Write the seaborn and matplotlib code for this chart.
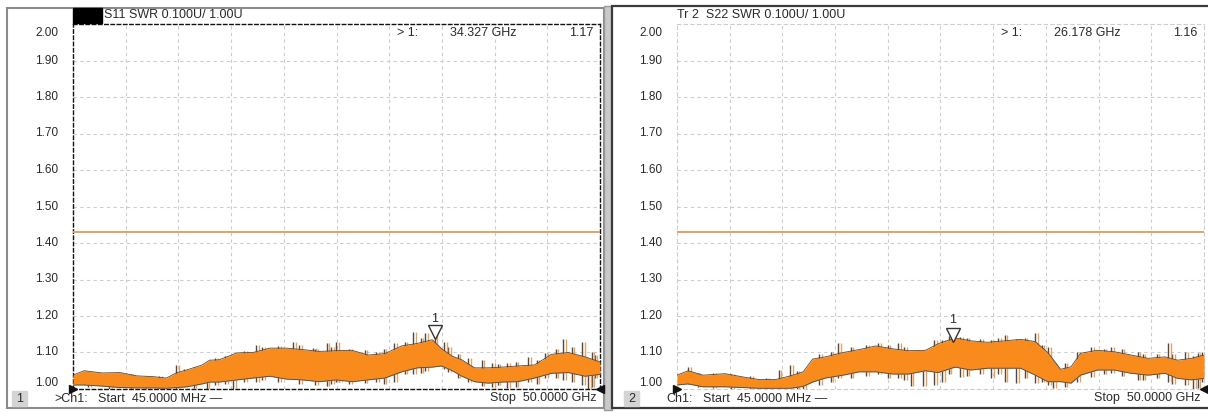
import numpy as np
import pandas as pd
import matplotlib
matplotlib.use("Agg")
import matplotlib.pyplot as plt
from matplotlib.patches import Rectangle
import seaborn as sns

# ---------------- data ----------------
y_ticks = [1.00, 1.10, 1.20, 1.30, 1.40, 1.50, 1.60, 1.70, 1.80, 1.90, 2.00]
y_tick_labels = ["1.00", "1.10", "1.20", "1.30", "1.40", "1.50", "1.60", "1.70", "1.80", "1.90", "2.00"]
start_ghz = 0.045
stop_ghz = 50.0
limit_value = 1.43

# S11 trace envelope (GHz, SWR)
s11_freq = [0.045, 1.1, 2.8, 4.5, 6.1, 7.6, 8.9, 9.9, 10.8, 12.3, 13.0, 13.9, 15.6, 17.1, 18.7,
            20.3, 21.8, 23.4, 25.0, 26.5, 28.0, 29.6, 31.2, 32.7, 34.1, 35.0, 36.0, 36.9, 38.1,
            39.4, 40.7, 42.2, 43.8, 45.4, 47.0, 48.6, 50.0]
s11_upper = [1.038, 1.050, 1.044, 1.045, 1.036, 1.034, 1.030, 1.045, 1.052, 1.066, 1.079, 1.080,
             1.099, 1.100, 1.112, 1.112, 1.108, 1.103, 1.105, 1.106, 1.093, 1.097, 1.118, 1.125,
             1.135, 1.110, 1.090, 1.080, 1.058, 1.058, 1.060, 1.063, 1.066, 1.095, 1.100, 1.088, 1.074]
s11_lower = [1.011, 1.011, 1.008, 1.004, 1.003, 1.003, 1.002, 1.004, 1.006, 1.014, 1.019, 1.019,
             1.025, 1.030, 1.035, 1.027, 1.025, 1.020, 1.025, 1.020, 1.025, 1.030, 1.047, 1.058,
             1.060, 1.063, 1.050, 1.035, 1.020, 1.016, 1.019, 1.020, 1.030, 1.043, 1.045, 1.035, 1.040]
# S11 noise spikes (GHz, top, bottom)
s11_spike_freq = [1.5, 3.5, 5.5, 7.0, 8.2, 9.8, 10.6, 11.5, 12.7, 13.5, 14.5, 15.2, 16.3, 17.4,
                  18.0, 19.5, 20.9, 21.5, 22.8, 23.0, 24.1, 24.5, 25.0, 25.3, 26.2, 27.7, 28.8,
                  29.5, 30.5, 31.5, 32.3, 33.0, 33.4, 34.327, 35.2, 35.6, 36.5, 37.5, 38.8, 39.8,
                  40.3, 41.2, 42.0, 43.2, 44.0, 44.8, 45.8, 46.5, 47.3, 48.3, 48.9, 49.2, 49.5]
s11_spike_top = [1.045, 1.040, 1.040, 1.035, 1.035, 1.066, 1.054, 1.060, 1.052, 1.085, 1.090,
                 1.090, 1.105, 1.120, 1.115, 1.118, 1.130, 1.120, 1.112, 1.110, 1.125, 1.115,
                 1.130, 1.107, 1.110, 1.107, 1.100, 1.110, 1.125, 1.130, 1.157, 1.140, 1.153,
                 1.165, 1.130, 1.116, 1.095, 1.085, 1.079, 1.070, 1.068, 1.070, 1.075, 1.088,
                 1.080, 1.098, 1.110, 1.138, 1.115, 1.130, 1.080, 1.100, 1.093]
s11_spike_bottom = [1.005, 1.000, 1.000, 0.998, 1.000, 1.000, 1.005, 1.002, 0.998, 1.010, 1.015,
                    0.998, 1.020, 1.020, 1.025, 1.020, 1.034, 1.015, 1.038, 1.010, 1.007, 1.015,
                    1.020, 1.020, 1.015, 1.016, 1.020, 1.015, 1.020, 1.040, 1.040, 1.045, 1.050,
                    1.070, 1.055, 1.047, 1.030, 1.020, 1.007, 1.005, 1.010, 1.002, 1.005, 1.020,
                    1.015, 1.030, 1.030, 1.025, 1.020, 1.011, 1.000, 1.005, 1.030]

# S22 trace envelope
s22_freq = [0.045, 1.1, 2.5, 4.6, 6.3, 7.8, 9.4, 10.8, 12.0, 12.9, 14.1, 15.8, 17.3, 18.9, 20.5,
            22.0, 23.6, 24.8, 26.4, 27.9, 29.5, 31.1, 32.6, 34.0, 35.2, 36.4, 37.4, 38.3, 39.9,
            41.5, 43.1, 44.7, 46.3, 47.5, 48.8, 50.0]
s22_upper = [1.038, 1.050, 1.038, 1.042, 1.033, 1.026, 1.026, 1.036, 1.047, 1.082, 1.088, 1.100,
             1.108, 1.118, 1.110, 1.105, 1.106, 1.124, 1.140, 1.132, 1.128, 1.132, 1.136, 1.130,
             1.100, 1.054, 1.061, 1.098, 1.106, 1.102, 1.093, 1.084, 1.088, 1.079, 1.084, 1.093]
s22_lower = [1.011, 1.014, 1.006, 1.006, 1.004, 1.002, 1.002, 1.002, 1.007, 1.019, 1.030, 1.038,
             1.047, 1.047, 1.041, 1.041, 1.050, 1.045, 1.060, 1.052, 1.057, 1.057, 1.057, 1.038,
             1.020, 1.020, 1.016, 1.038, 1.052, 1.052, 1.043, 1.038, 1.043, 1.029, 1.025, 1.029]
s22_spike_freq = [1.1, 2.0, 3.5, 5.2, 7.0, 8.5, 9.7, 10.8, 11.4, 12.0, 13.5, 14.6, 15.3, 16.5,
                  18.0, 19.1, 20.0, 21.0, 21.6, 22.2, 23.4, 24.4, 25.2, 25.8, 26.9, 27.5, 28.8,
                  29.8, 30.5, 31.1, 32.2, 33.0, 34.0, 34.6, 35.2, 35.7, 36.8, 38.0, 39.3, 40.5,
                  41.2, 42.2, 43.7, 44.2, 45.5, 46.6, 47.0, 48.2, 49.0, 49.4, 49.8]
s22_spike_top = [1.061, 1.045, 1.045, 1.040, 1.035, 1.030, 1.052, 1.066, 1.050, 1.043, 1.095,
                 1.100, 1.125, 1.115, 1.120, 1.125, 1.120, 1.125, 1.115, 1.098, 1.107, 1.134,
                 1.134, 1.145, 1.143, 1.140, 1.138, 1.135, 1.140, 1.147, 1.138, 1.140, 1.153,
                 1.120, 1.116, 1.070, 1.070, 1.100, 1.116, 1.110, 1.116, 1.110, 1.102, 1.095,
                 1.095, 1.125, 1.095, 1.102, 1.090, 1.098, 1.100]
s22_spike_bottom = [1.014, 1.005, 1.003, 1.000, 1.000, 0.998, 0.998, 1.002, 1.000, 0.998, 1.012,
                    1.020, 1.030, 1.030, 1.035, 1.040, 1.030, 1.029, 1.025, 1.007, 1.007, 1.011,
                    1.020, 1.040, 1.034, 1.035, 1.040, 1.030, 1.040, 1.020, 1.016, 1.030, 1.016,
                    1.020, 1.011, 1.002, 1.005, 1.020, 1.034, 1.040, 1.045, 1.035, 1.025, 1.025,
                    1.030, 1.020, 1.015, 1.011, 1.000, 1.002, 1.020]

panels = [
    dict(name="S11", title="S11 SWR 0.100U/ 1.00U", freq=s11_freq, up=s11_upper, lo=s11_lower,
         sf=s11_spike_freq, st=s11_spike_top, sb=s11_spike_bottom,
         mk_freq=34.327, mk_text="34.327 GHz", mk_val="1.17", num="1", ch=">Ch1:"),
    dict(name="S22", title="Tr 2  S22 SWR 0.100U/ 1.00U", freq=s22_freq, up=s22_upper, lo=s22_lower,
         sf=s22_spike_freq, st=s22_spike_top, sb=s22_spike_bottom,
         mk_freq=26.178, mk_text="26.178 GHz", mk_val="1.16", num="2", ch="Ch1:"),
]

# ---------------- style ----------------
sns.set_style("white")
plt.rcParams["font.family"] = ["Liberation Sans", "DejaVu Sans"]

W, H = 1208, 413
fig = plt.figure(figsize=(W / 100, H / 100), dpi=100)
fig.patch.set_facecolor("white")

def fx(px):
    return px / W

def fy(py):
    return 1 - py / H

TXT = "#2a2a2a"
GRID = "#cdcdcd"
ORANGE = "#f98a1c"
LIGHT_OR = "#e9a25a"
DARK = "#4b4b4b"
LIMIT = "#e2a064"

# panel frames (behind the axes)
fig.patches.append(Rectangle((fx(7), fy(408)), fx(597), 400 / H, transform=fig.transFigure,
                             facecolor="white", edgecolor="#8c8c8c", lw=1.5, zorder=-5))
fig.patches.append(Rectangle((fx(604), fy(410)), fx(8), 404 / H, transform=fig.transFigure,
                             facecolor="#c9c9c9", edgecolor="#9a9a9a", lw=1.0, zorder=-5))
fig.patches.append(Rectangle((fx(612), fy(408)), fx(600), 402 / H, transform=fig.transFigure,
                             facecolor="white", edgecolor="#3a3a3a", lw=1.6, zorder=-5))

plot_lefts = [73, 677]
plot_w = 527
top_px, bot_px = 24, 389

for i, p in enumerate(panels):
    L = plot_lefts[i]
    ax = fig.add_axes([fx(L), fy(bot_px), fx(plot_w), (bot_px - top_px) / H])
    ax.set_zorder(2)
    ax.patch.set_alpha(0)
    ax.set_xlim(start_ghz, stop_ghz)
    ax.set_ylim(1.0, 2.0)
    grid_x = np.linspace(start_ghz, stop_ghz, 11)
    for gx in grid_x[1:-1]:
        ax.axvline(gx, color=GRID, lw=0.8, ls=(0, (3, 3)), zorder=1)
    for gy in y_ticks[1:-1]:
        ax.axhline(gy, color=GRID, lw=0.8, ls=(0, (3, 3)), zorder=1)
    ax.set_xticks([])
    ax.set_yticks([])
    for s in ax.spines.values():
        s.set_visible(True)
        if i == 0:
            s.set_color("#111111")
            s.set_linewidth(1.0)
            s.set_linestyle((0, (2.5, 2)))
        else:
            s.set_color(GRID)
            s.set_linewidth(0.8)
            s.set_linestyle((0, (3, 3)))

    # limit line
    lim_df = pd.DataFrame({"f": [start_ghz, stop_ghz], "v": [limit_value, limit_value]})
    sns.lineplot(data=lim_df, x="f", y="v", ax=ax, color=LIMIT, lw=1.4, zorder=3)

    # spikes (behind the orange core, so only the excursions show)
    ax.vlines(p["sf"], p["sb"], p["st"], color=DARK, lw=1.0, zorder=3.5)
    ax.vlines(np.array(p["sf"]) + 0.25, p["sb"], p["st"], color=LIGHT_OR, lw=1.0, zorder=3.5)

    # trace band
    df = pd.DataFrame({"f": p["freq"], "up": p["up"], "lo": p["lo"]})
    ax.fill_between(df["f"], df["lo"], df["up"], color=ORANGE, lw=0, zorder=4)
    sns.lineplot(data=df, x="f", y="up", ax=ax, color=DARK, lw=0.6, zorder=5)
    sns.lineplot(data=df, x="f", y="lo", ax=ax, color=DARK, lw=0.6, zorder=5)
    ax.set_xlabel("")
    ax.set_ylabel("")

    # marker
    ax.plot([p["mk_freq"]], [1.156 if i == 0 else 1.148], marker="v", ms=10, mfc="white",
            mec="#333333", mew=1.0, zorder=8, clip_on=False)
    ax.text(p["mk_freq"], 1.193 if i == 0 else 1.189, "1", ha="center", va="center",
            fontsize=9, color=TXT, zorder=8)

    # corner arrows
    ax.plot([start_ghz], [1.0], marker=">", ms=6, color="#111111", clip_on=False, zorder=9)
    ax.plot([stop_ghz], [1.0], marker="<", ms=6, color="#111111", clip_on=False, zorder=9)

    # y tick labels
    for v, lab in zip(y_ticks, y_tick_labels):
        py = top_px + (2.0 - v) * 365
        if v == 2.0:
            py = 33
        elif v == 1.0:
            py = 383
        fig.text(fx(L - 15), fy(py), lab, ha="right", va="center", fontsize=8.5, color=TXT)

    # header
    if i == 0:
        fig.patches.append(Rectangle((fx(73), fy(23)), fx(29), 15 / H, transform=fig.transFigure,
                                     facecolor="black", edgecolor="black", zorder=5))
        fig.text(fx(104), fy(15), p["title"], ha="left", va="center", fontsize=9, color=TXT)
    else:
        fig.text(fx(677), fy(15), p["title"], ha="left", va="center", fontsize=9, color=TXT)

    fig.text(fx(L + 324), fy(33), "> 1:", ha="left", va="center", fontsize=9, color=TXT)
    fig.text(fx(L + 377), fy(33), p["mk_text"], ha="left", va="center", fontsize=9, color=TXT)
    fig.text(fx(L + 520), fy(33), p["mk_val"], ha="right", va="center", fontsize=9, color=TXT)

    # footer
    box_l = 12 if i == 0 else 624
    fig.patches.append(Rectangle((fx(box_l), fy(406)), fx(15), 15 / H, transform=fig.transFigure,
                                 facecolor="#d4d4d4", edgecolor="#d4d4d4", zorder=5))
    fig.text(fx(box_l + 7.5), fy(398.5), p["num"], ha="center", va="center", fontsize=9,
             color=TXT, zorder=6)
    ch_x = 54 if i == 0 else 666
    fig.text(fx(ch_x), fy(398.5), p["ch"], ha="left", va="center", fontsize=9, color=TXT)
    st_x = 98 if i == 0 else 703
    fig.text(fx(st_x), fy(398.5), "Start  45.0000 MHz \u2014", ha="left", va="center",
             fontsize=9, color=TXT)
    fig.text(fx(L + 524), fy(398.5), "Stop  50.0000 GHz", ha="right", va="center",
             fontsize=9, color=TXT)

fig.savefig("out.png", dpi=100)
